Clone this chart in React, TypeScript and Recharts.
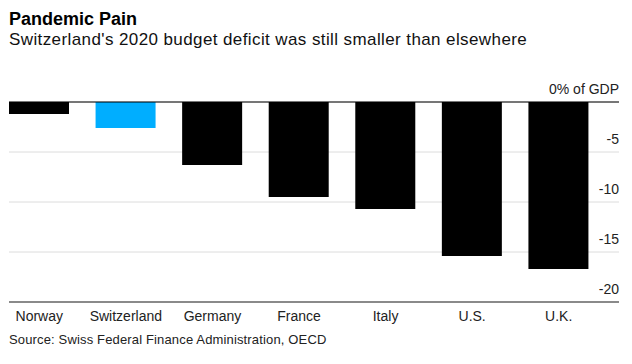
import React from "react";
import { BarChart, Bar, XAxis, YAxis, CartesianGrid, ReferenceLine, Cell } from "recharts";

const countries = ["Norway", "Switzerland", "Germany", "France", "Italy", "U.S.", "U.K."];
const deficits = [-1.2, -2.6, -6.3, -9.5, -10.7, -15.4, -16.7];
const highlighted = ["Switzerland"];
const yTicks = [0, -5, -10, -15, -20];

const data = countries.map((c, i) => ({ country: c, value: deficits[i] }));

const FONT = "'Liberation Sans', Arial, Helvetica, sans-serif";

const YTick = (props: any) => {
  const { y, payload, plotRight } = props;
  const label = payload.value === 0 ? "0% of GDP" : String(payload.value);
  return (
    <text x={plotRight} y={y - 8} textAnchor="end" fontSize={14} fill="#222" fontFamily={FONT}>
      {label}
    </text>
  );
};

const XTick = (props: any) => {
  const { x, y, payload } = props;
  return (
    <text x={x} y={y + 11} textAnchor="middle" fontSize={14} fill="#222" fontFamily={FONT}>
      {payload.value}
    </text>
  );
};

const W = 632;
const H = 364;
const M = { top: 102, right: 12, left: 9, bottom: 32 };
const Y_W = 1;

export default function App() {
  const plotRight = W - M.right - Y_W;
  return (
    <div style={{ position: "absolute", left: 0, top: 0, width: W, height: H, background: "#fff", fontFamily: FONT }}>
      <div style={{ position: "absolute", left: 9, top: 8, fontSize: 18, fontWeight: "bold", color: "#000", lineHeight: "22px" }}>
        Pandemic Pain
      </div>
      <div style={{ position: "absolute", left: 9, top: 30, fontSize: 17, letterSpacing: 0.4, color: "#111", lineHeight: "20px" }}>
        Switzerland's 2020 budget deficit was still smaller than elsewhere
      </div>
      <div style={{ position: "absolute", left: 0, top: 0 }}>
        <BarChart width={W} height={H} data={data} margin={M}>
          <CartesianGrid vertical={false} stroke="#dcdcdc" strokeWidth={1} />
          <XAxis
            dataKey="country"
            padding={{ left: -13, right: 17 }}
            height={30}
            tickLine={false}
            axisLine={{ stroke: "#8a8a8a", strokeWidth: 2 }}
            tick={<XTick />}
            interval={0}
          />
          <YAxis
            orientation="right"
            domain={[-20, 0]}
            ticks={yTicks}
            width={Y_W}
            tickLine={false}
            axisLine={false}
            tick={<YTick plotRight={plotRight} />}
            interval={0}
            allowDataOverflow
          />
          <Bar dataKey="value" barSize={60} isAnimationActive={false}>
            {data.map((d) => (
              <Cell key={d.country} fill={highlighted.includes(d.country) ? "#00aeff" : "#000000"} />
            ))}
          </Bar>
          <ReferenceLine y={0} stroke="#000" strokeWidth={1} />
        </BarChart>
      </div>
      <div style={{ position: "absolute", left: 9, top: 331, fontSize: 13, letterSpacing: 0.15, color: "#222", lineHeight: "18px" }}>
        Source: Swiss Federal Finance Administration, OECD
      </div>
    </div>
  );
}
